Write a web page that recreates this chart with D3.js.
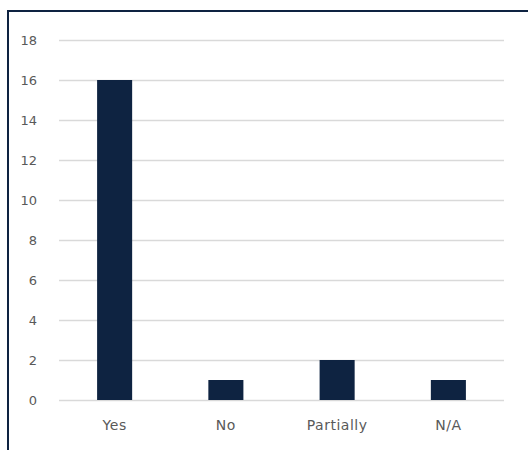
<!DOCTYPE html>
<html>
<head>
<meta charset="utf-8">
<script src="https://cdn.jsdelivr.net/npm/d3@7"></script>
<style>
  html, body { margin: 0; padding: 0; background: #fff; }
  svg { display: block; }
</style>
</head>
<body>
<svg id="chart" width="528" height="450"></svg>
<script>
// Responses per answer category
const categories = ["Yes", "No", "Partially", "N/A"];
const counts = [16, 1, 2, 1];
const yTicks = [0, 2, 4, 6, 8, 10, 12, 14, 16, 18];

const svg = d3.select("#chart");
const W = 528, H = 450;
const plot = { left: 59, right: 504, top: 40, bottom: 400 };
const font = "'DejaVu Sans', 'Open Sans', sans-serif";
const navy = "#0e2341";
const labelColor = "#595959";

// Outer frame (only its top and left edges fall inside the view)
svg.append("rect")
  .attr("x", 8).attr("y", 11)
  .attr("width", W + 20).attr("height", H + 20)
  .attr("fill", "none")
  .attr("stroke", navy)
  .attr("stroke-width", 2);

const x = d3.scaleBand()
  .domain(categories)
  .range([plot.left, plot.right])
  .paddingInner(0.685)
  .paddingOuter(0.3425);

const y = d3.scaleLinear()
  .domain([0, 18])
  .range([plot.bottom, plot.top]);

// Horizontal gridlines
const yAxis = d3.axisLeft(y)
  .tickValues(yTicks)
  .tickSize(-(plot.right - plot.left))
  .tickPadding(22)
  .tickFormat(d3.format("d"));

const gy = svg.append("g")
  .attr("transform", `translate(${plot.left},0)`)
  .call(yAxis);
gy.select(".domain").remove();
gy.selectAll(".tick line")
  .attr("stroke", "#d9d9d9")
  .attr("stroke-width", 1.5);
gy.selectAll(".tick text")
  .attr("fill", labelColor)
  .style("font-family", font)
  .style("font-size", "13px");

// Bars
svg.append("g")
  .selectAll("rect")
  .data(categories.map((c, i) => ({ c, v: counts[i] })))
  .join("rect")
  .attr("x", d => x(d.c))
  .attr("y", d => y(d.v))
  .attr("width", x.bandwidth())
  .attr("height", d => y(0) - y(d.v))
  .attr("fill", navy);

// Category axis
const xAxis = d3.axisBottom(x).tickSize(0).tickPadding(20);
const gx = svg.append("g")
  .attr("transform", `translate(0,${plot.bottom})`)
  .call(xAxis);
gx.select(".domain").remove();
gx.selectAll(".tick text")
  .attr("fill", labelColor)
  .style("font-family", font)
  .style("font-size", "14px")
  .style("letter-spacing", "0.5px");
</script>
</body>
</html>
